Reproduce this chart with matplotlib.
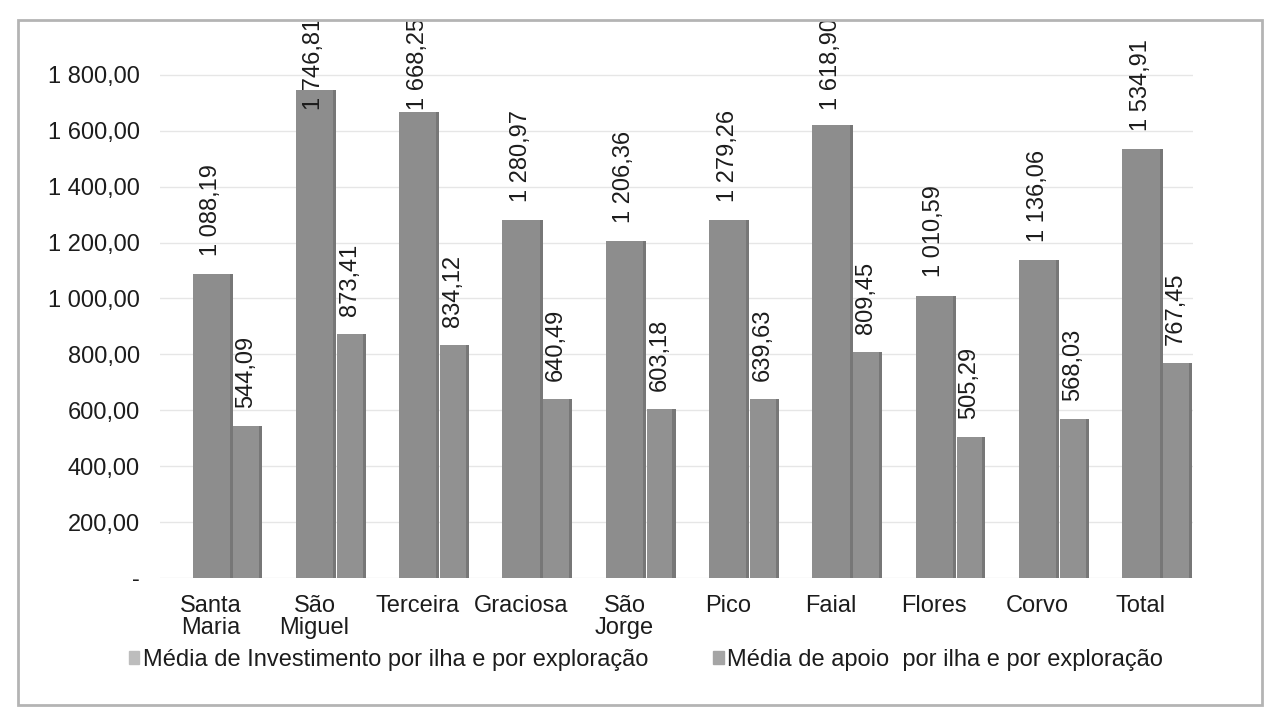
import numpy as np
import matplotlib
matplotlib.use('Agg')
import matplotlib.pyplot as plt
from matplotlib.patches import Rectangle

#### data ####
ilhas = ['Santa\nMaria', 'São\nMiguel', 'Terceira', 'Graciosa', 'São\nJorge',
         'Pico', 'Faial', 'Flores', 'Corvo', 'Total']
investimento = [1088.19, 1746.81, 1668.25, 1280.97, 1206.36,
                1279.26, 1618.90, 1010.59, 1136.06, 1534.91]
apoio = [544.09, 873.41, 834.12, 640.49, 603.18,
         639.63, 809.45, 505.29, 568.03, 767.45]
yticks = [0, 200, 400, 600, 800, 1000, 1200, 1400, 1600, 1800]
legenda = ['Média de Investimento por ilha e por exploração',
           'Média de apoio  por ilha e por exploração']


def fmt(v):
    # excel style: 1 088,19 and "-" for zero
    if v == 0:
        return '-'
    return f"{v:,.2f}".replace(',', ' ').replace('.', ',')


plt.rcParams['font.family'] = ['Liberation Sans', 'DejaVu Sans']
txt = '#1c1c1c'
c_inv = '#8d8d8d'
c_apo = '#919191'
c_side = '#777777'

fig = plt.figure(figsize=(12.66, 7.18), dpi=100)
ax = fig.add_axes([0.126, 0.195, 0.816, 0.763])

x = np.arange(len(ilhas))

# front faces + darker right side (fake 3d)
ax.bar(x, investimento, width=0.36, color=c_inv, zorder=3)
ax.bar(x + 0.195, investimento, width=0.03, color=c_side, zorder=3)
ax.bar(x + 0.34, apoio, width=0.25, color=c_apo, zorder=2)
ax.bar(x + 0.48, apoio, width=0.03, color=c_side, zorder=2)

frame = Rectangle((18 / 1266, 1 - 705 / 718), 1244 / 1266, 685 / 718,
                  transform=fig.transFigure, fill=False,
                  edgecolor='#b4b4b4', linewidth=2)
fig.patches.append(frame)

for i in range(len(ilhas)):
    t = ax.text(x[i], min(investimento[i] + 65, 1675), fmt(investimento[i]),
                rotation=90, ha='center', va='bottom', fontsize=17, color=txt,
                zorder=5)
    t.set_clip_path(frame)
    ax.text(x[i] + 0.34, apoio[i] + 65, fmt(apoio[i]),
            rotation=90, ha='center', va='bottom', fontsize=17, color=txt,
            zorder=5)

ax.set_xlim(-0.5, 9.5)
ax.set_ylim(0, 1960)
ax.set_yticks(yticks)
ax.set_yticklabels([fmt(v) for v in yticks])
ax.set_xticks(x)
ax.set_xticklabels(ilhas, linespacing=1.0)
ax.tick_params(axis='both', length=0, labelsize=17, colors=txt)
ax.tick_params(axis='y', pad=14)
ax.tick_params(axis='x', pad=12)
for s in ax.spines.values():
    s.set_visible(False)
ax.grid(axis='y', color='#e6e6e6', linewidth=1, zorder=0)

h1 = Rectangle((0, 0), 1, 1, color='#bdbdbd')
h2 = Rectangle((0, 0), 1, 1, color='#a5a5a5')
fig.legend([h1, h2], legenda, loc='center left',
           bbox_to_anchor=(0.085, 1 - 660 / 718), ncol=2, frameon=False,
           fontsize=17, handlelength=0.45, handleheight=0.45, handletextpad=0.15,
           columnspacing=2.75, labelcolor=txt)

plt.savefig('out.png', dpi=100)
